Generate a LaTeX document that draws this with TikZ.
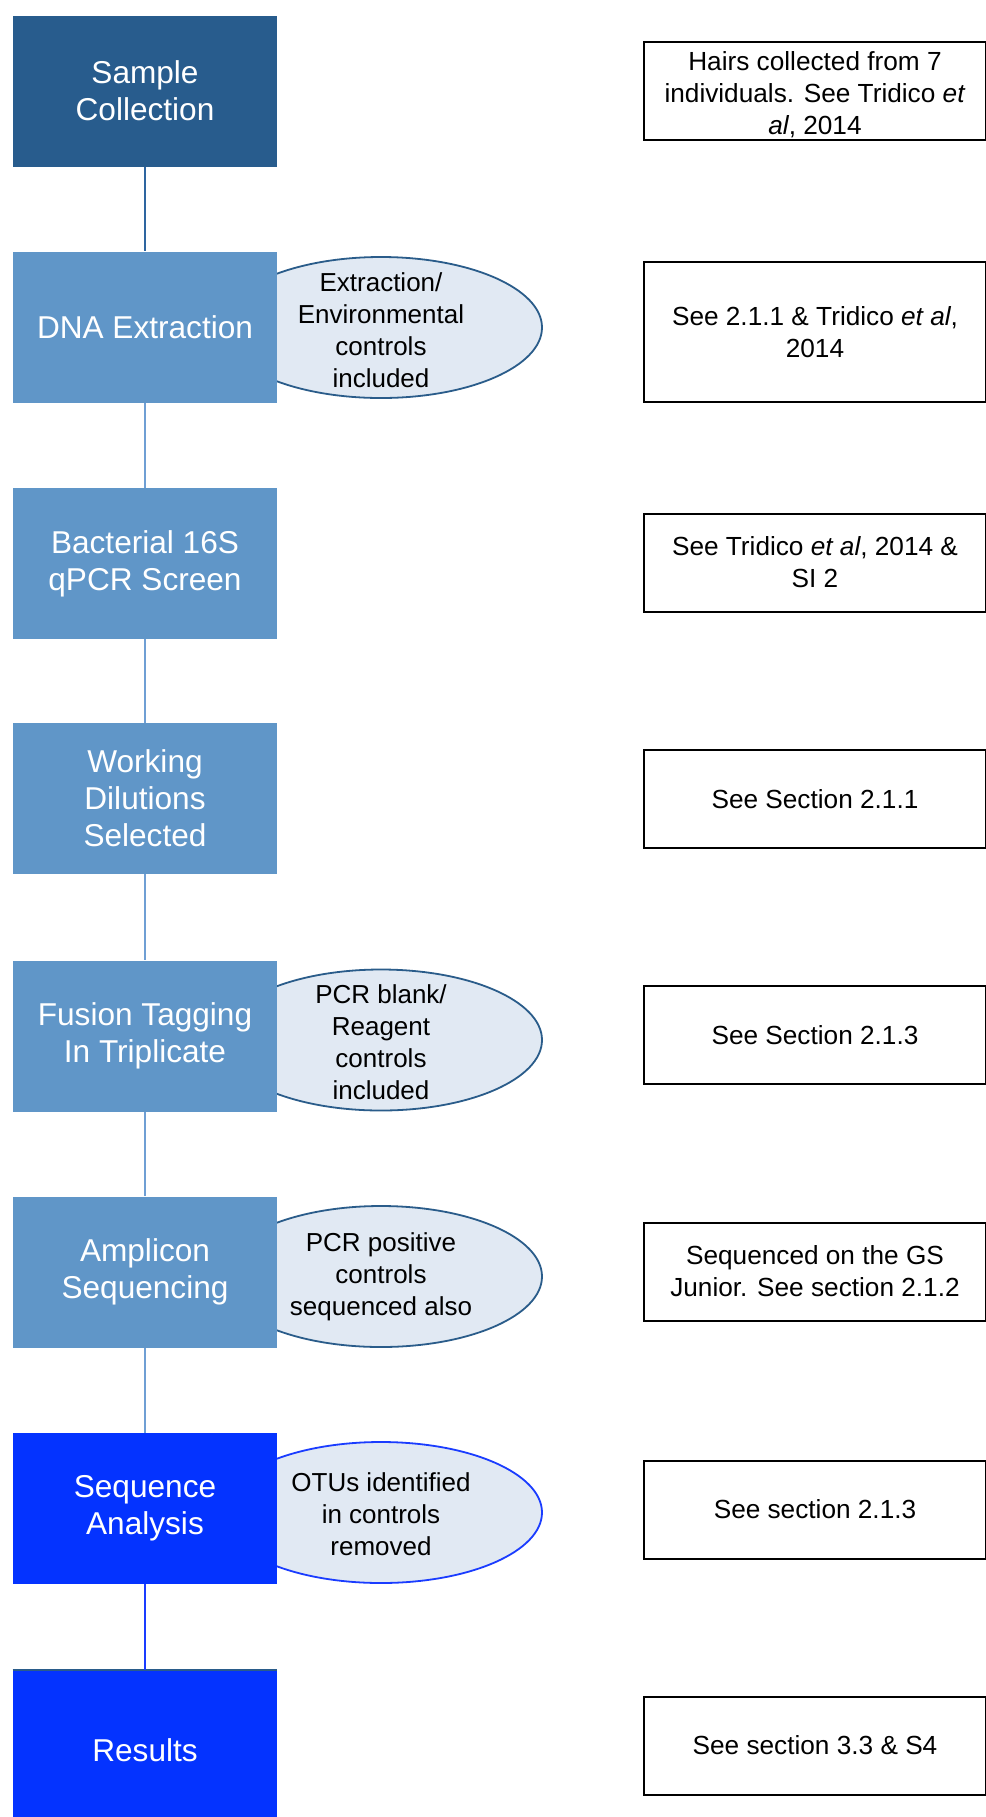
\documentclass[tikz,border=0pt]{standalone}
\usepackage{fontspec}
\setmainfont{Liberation Sans}
\usetikzlibrary{shapes.geometric}
\definecolor{darkstep}{HTML}{285C8D}
\definecolor{midstep}{HTML}{6096C8}
\definecolor{brightstep}{HTML}{0433FF}
\definecolor{ellfill}{HTML}{E1E9F3}
\definecolor{ellline}{HTML}{2A5C8A}
\definecolor{line1}{HTML}{2E65A0}
\definecolor{line2}{HTML}{6F9FD4}
\definecolor{line3}{HTML}{1A3CFF}
\begin{document}
\begin{tikzpicture}[x=0.5pt,y=-0.5pt,
  stepbox/.style={rectangle, minimum width=132pt, minimum height=75.5pt, inner sep=0pt,
    text=white, align=center, font=\fontsize{15.8}{18.5}\selectfont},
  notebox/.style={rectangle, draw=black, line width=1pt, fill=white, minimum width=171pt,
    minimum height=49pt, inner sep=0pt, align=center, font=\fontsize{13.1}{16}\selectfont},
  ctrl/.style={ellipse, draw=ellline, line width=0.9pt, fill=ellfill, minimum width=161pt,
    minimum height=70.5pt, inner sep=0pt},
  ctrltext/.style={inner sep=0pt, align=center, font=\fontsize{13}{16}\selectfont},
  conn/.style={line width=1.1pt}]
\useasboundingbox (0,0) rectangle (986,1817);
\fill[white] (0,0) rectangle (986,1817);
% ellipses (behind boxes)
\node[ctrl] (e1) at (381,327.5) {};
\node[ctrl] (e2) at (381,1040) {};
\node[ctrl] (e3) at (381,1276.5) {};
\node[ctrl, draw=line3] (e4) at (381,1512.5) {};
\node[ctrltext] (t1) at ([yshift=-1.5pt]e1.center) {Extraction/\\Environmental\\controls\\included};
\node[ctrltext] (t2) at ([yshift=-1pt]e2.center) {PCR blank/\\Reagent\\controls\\included};
\node[ctrltext] (t3) at (e3.center) {PCR positive\\controls\\sequenced also};
\node[ctrltext] (t4) at ([yshift=-1pt]e4.center) {OTUs identified\\in controls\\removed};
% step boxes
\node[stepbox, fill=darkstep] (s1) at (145,91) {Sample\\Collection};
\node[stepbox, fill=midstep] (s2) at (145,327) {DNA Extraction};
\node[stepbox, fill=midstep] (s3) at (145,563.5) {Bacterial 16S\\qPCR Screen};
\node[stepbox, fill=midstep] (s4) at (145,798.5) {Working\\Dilutions\\Selected};
\node[stepbox, fill=midstep] (s5) at (145,1036) {Fusion Tagging\\In Triplicate};
\node[stepbox, fill=midstep] (s6) at (145,1272) {Amplicon\\Sequencing};
\node[stepbox, fill=brightstep] (s7) at (145,1508.5) {Sequence\\Analysis};
\node[stepbox, fill=brightstep, minimum height=80pt] (s8) at (145,1750) {Results};
\draw[ellline, line width=1pt] (s8.north west) -- (s8.north east);
% connectors
\draw[conn, line1] (s1.south) -- (s2.north);
\draw[conn, line2] (s2.south) -- (s3.north);
\draw[conn, line2] (s3.south) -- (s4.north);
\draw[conn, line2] (s4.south) -- (s5.north);
\draw[conn, line2] (s5.south) -- (s6.north);
\draw[conn, line2] (s6.south) -- (s7.north);
\draw[conn, line3] (s7.south) -- (s8.north);
% note boxes
\node[notebox] (n1) at (815,90.5) {};
\node[ctrltext, font=\fontsize{13.1}{16}\selectfont] (m1) at ([yshift=-2pt]n1.center) {Hairs collected from 7\\individuals. See Tridico \textit{et}\\\textit{al}, 2014};
\node[notebox, minimum height=70pt] (n2) at (815,332) {See 2.1.1 \& Tridico \textit{et al},\\2014};
\node[notebox] (n3) at (815,562.5) {See Tridico \textit{et al}, 2014 \&\\SI 2};
\node[notebox] (n4) at (815,799) {See Section 2.1.1};
\node[notebox] (n5) at (815,1035) {See Section 2.1.3};
\node[notebox] (n6) at (815,1271.5) {Sequenced on the GS\\Junior. See section 2.1.2};
\node[notebox] (n7) at (815,1509.5) {See section 2.1.3};
\node[notebox] (n8) at (815,1745.5) {See section 3.3 \& S4};
\end{tikzpicture}
\end{document}
